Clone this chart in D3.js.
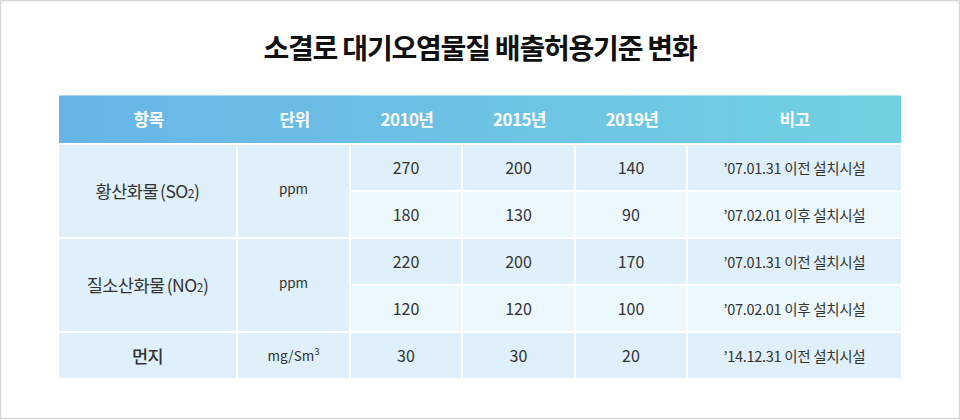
<!DOCTYPE html>
<html><head><meta charset="utf-8">
<script src="https://cdn.jsdelivr.net/npm/d3@7"></script>
<style>
html,body{margin:0;padding:0;background:#fff;}
svg{display:block;font-family:"Noto Sans CJK KR","Noto Sans",sans-serif;}
</style></head>
<body>
<svg id="c" width="960" height="420"></svg>
<script>
// ---- data ----
const title = "소결로 대기오염물질 배출허용기준 변화";
const headers = ["항목", "단위", "2010년", "2015년", "2019년", "비고"];
const items = [
  {name: "황산화물", sub: "SO", small: "2", rows: 2},
  {name: "질소산화물", sub: "NO", small: "2", rows: 2},
  {name: "먼지", sub: "", small: "", rows: 1}
];
const units = [{u: "ppm", sup: ""}, {u: "ppm", sup: ""}, {u: "mg/Sm", sup: "3"}];
const values2010 = [270, 180, 220, 120, 30];
const values2015 = [200, 130, 200, 120, 30];
const values2019 = [140, 90, 170, 100, 20];
const notes = ["’07.01.31 이전 설치시설", "’07.02.01 이후 설치시설", "’07.01.31 이전 설치시설", "’07.02.01 이후 설치시설", "’14.12.31 이전 설치시설"];

// ---- layout ----
const svg = d3.select("#c");
const colEdges = [59, 238, 351, 463, 576, 688, 901];
const tableTop = 95, headH = 48, rowPitch = 47, rowH = 45, firstRow = 145;
const gap = 2;

const x = d3.scaleOrdinal().domain(d3.range(6)).range(colEdges.slice(0, 6));
const w = i => colEdges[i + 1] - colEdges[i] - (i < 5 ? gap : 0);
const y = d3.scaleLinear().domain([0, 1]).range([firstRow, firstRow + rowPitch]);

// outer frame
svg.append("rect").attr("x", 0.5).attr("y", 0.5).attr("width", 959).attr("height", 418)
  .attr("fill", "#fff").attr("stroke", "#d6d6d6").attr("stroke-width", 1.5);

// title
svg.append("text").attr("x", 480).attr("y", 59).attr("text-anchor", "middle")
  .attr("font-size", 28).attr("font-weight", 700).attr("letter-spacing", -1.2)
  .attr("fill", "#111").text(title);

// header gradient
const defs = svg.append("defs");
const grad = defs.append("linearGradient").attr("id", "hg").attr("x1", "0").attr("x2", "1");
grad.append("stop").attr("offset", "0").attr("stop-color", "#68b4e7");
grad.append("stop").attr("offset", "1").attr("stop-color", "#72d1e1");

svg.append("rect").attr("x", colEdges[0]).attr("y", tableTop).attr("width", colEdges[6] - colEdges[0])
  .attr("height", headH).attr("fill", "url(#hg)");
svg.append("rect").attr("x", colEdges[0]).attr("y", tableTop).attr("width", colEdges[6] - colEdges[0])
  .attr("height", 1).attr("fill", "#ffffff").attr("opacity", 0.45);

svg.selectAll("text.h").data(headers).join("text").attr("class", "h")
  .attr("x", (d, i) => x(i) + (colEdges[i + 1] - colEdges[i]) / 2)
  .attr("y", tableTop + headH / 2 + 6.5)
  .attr("text-anchor", "middle").attr("font-size", 17).attr("font-weight", 700)
  .attr("letter-spacing", -0.6).attr("fill", "#fff").text(d => d);

const dark = "#dff0fa", light = "#ecf7fe";

// merged item & unit cells
let start = 0;
items.forEach((it, k) => {
  const r0 = start, n = it.rows;
  start += n;
  const top = y(r0), h = n * rowPitch - gap;
  [0, 1].forEach(c => {
    svg.append("rect").attr("x", x(c)).attr("y", top).attr("width", w(c)).attr("height", h).attr("fill", dark);
  });
  const cy = top + h / 2;
  const t = svg.append("text").attr("x", x(0) + w(0) / 2).attr("y", cy + 7)
    .attr("text-anchor", "middle").attr("font-size", 17.5).attr("font-weight", it.sub ? 400 : 500)
    .attr("fill", "#333").attr("letter-spacing", -0.5);
  t.append("tspan").text(it.name);
  if (it.sub) {
    t.append("tspan").attr("dx", 2).text("(" + it.sub);
    t.append("tspan").attr("font-size", 12).text(it.small);
    t.append("tspan").text(")");
  }
  const u = svg.append("text").attr("x", x(1) + w(1) / 2).attr("y", cy + (units[k].sup ? 5 : 3))
    .attr("text-anchor", "middle").attr("font-size", 13.5).attr("fill", "#333");
  u.append("tspan").text(units[k].u);
  if (units[k].sup) u.append("tspan").attr("font-size", 9.5).attr("dy", -6).text(units[k].sup);
});

// value cells
const rowShade = [dark, light, dark, light, dark];
const cols = [values2010, values2015, values2019, notes];
cols.forEach((arr, ci) => {
  const c = ci + 2;
  const g = svg.append("g");
  g.selectAll("rect").data(arr).join("rect")
    .attr("x", x(c)).attr("y", (d, i) => y(i)).attr("width", w(c)).attr("height", rowH)
    .attr("fill", (d, i) => rowShade[i]);
  g.selectAll("text").data(arr).join("text")
    .attr("x", x(c) + w(c) / 2).attr("y", (d, i) => y(i) + rowH / 2 + 6)
    .attr("text-anchor", "middle").attr("font-size", c === 5 ? 14.5 : 16)
    .attr("letter-spacing", c === 5 ? -0.3 : 0)
    .attr("fill", "#333").text(d => d);
});
</script>
</body></html>
